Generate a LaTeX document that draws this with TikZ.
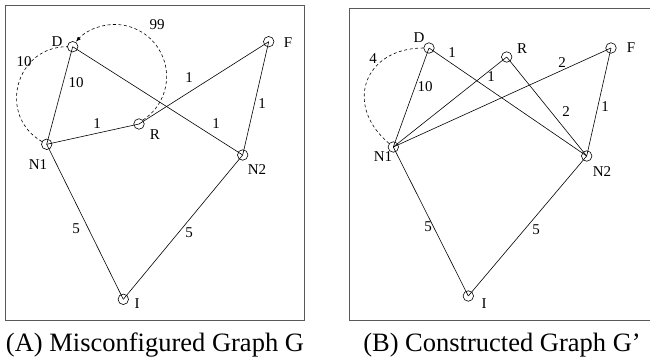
\documentclass[tikz,border=0pt]{standalone}
\usepackage{fontspec}
\setmainfont{Liberation Serif}
\usetikzlibrary{arrows.meta}

\tikzset{
  vtx/.style={draw,circle,inner sep=0pt,minimum size=10.5pt,line width=0.6pt},
  txt/.style={font=\fontsize{15}{15}\selectfont,inner sep=0pt},
  edge/.style={line width=0.6pt},
  alt/.style={line width=0.6pt,dash pattern=on 3pt off 2.5pt},
  frm/.style={line width=1pt,black!65},
  subcap/.style={font=\fontsize{26.5}{28}\selectfont,inner sep=0pt,anchor=base}
}

\begin{document}
\begin{tikzpicture}[x=1pt,y=-1pt]
\useasboundingbox (0,0) rectangle (650,360);
\draw[frm] (5,5) rectangle (304,320);
\draw[frm] (652,8) -- (349,8) -- (349,320) -- (652,320);

% (A) misconfigured graph
\node[vtx] (aD) at (72.7,46.7) {};
\node[vtx] (aF) at (268.7,41.7) {};
\node[vtx] (aR) at (139,124) {};
\node[vtx] (aN1) at (46.7,144.3) {};
\node[vtx] (aN2) at (242.7,155) {};
\node[vtx] (aI) at (123.3,299.3) {};
\node[txt] (aDt) at (57,42) {D};
\node[txt] (aFt) at (288,43) {F};
\node[txt] (aRt) at (155,135) {R};
\node[txt] (aN1t) at (38,165) {N1};
\node[txt] (aN2t) at (257,170) {N2};
\node[txt] (aIt) at (137,304) {I};
\draw[edge] (aD.center) -- (aN1.center);
\draw[edge] (aD.center) -- (aN2.center);
\draw[edge] (aN1.center) -- (aR.center);
\draw[edge] (aR.center) -- (aF.center);
\draw[edge] (aF.center) -- (aN2.center);
\draw[edge] (aN1.center) -- (aI.center);
\draw[edge] (aN2.center) -- (aI.center);
\draw[alt] (aN1) to[out=150,in=180,looseness=1.35] (aD);
\draw[alt,-{Latex[length=5pt,width=4pt]}] (aR.45) arc[start angle=-57,end angle=138,radius=52pt];
\node[txt] (aw1) at (76,83) {10};
\node[txt] (aw2) at (216,124) {1};
\node[txt] (aw3) at (97,124) {1};
\node[txt] (aw4) at (189,78) {1};
\node[txt] (aw5) at (262,104) {1};
\node[txt] (aw6) at (76,229) {5};
\node[txt] (aw7) at (189,233) {5};
\node[txt] (aw8) at (24,62) {10};
\node[txt] (aw9) at (157,25) {99};

% (B) constructed graph
\node[vtx] (bD) at (429,48) {};
\node[vtx] (bR) at (506.7,57) {};
\node[vtx] (bF) at (611,48) {};
\node[vtx] (bN1) at (393.3,147) {};
\node[vtx] (bN2) at (586.7,156) {};
\node[vtx] (bI) at (468.3,296) {};
\node[txt] (bDt) at (419,38) {D};
\node[txt] (bRt) at (522,49) {R};
\node[txt] (bFt) at (631,48) {F};
\node[txt] (bN1t) at (383,157) {N1};
\node[txt] (bN2t) at (602,172) {N2};
\node[txt] (bIt) at (484,304) {I};
\draw[edge] (bD.center) -- (bN1.center);
\draw[edge] (bD.center) -- (bN2.center);
\draw[edge] (bR.center) -- (bN1.center);
\draw[edge] (bR.center) -- (bN2.center);
\draw[edge] (bF.center) -- (bN1.center);
\draw[edge] (bF.center) -- (bN2.center);
\draw[edge] (bN1.center) -- (bI.center);
\draw[edge] (bN2.center) -- (bI.center);
\draw[alt] (bN1) to[out=140,in=180,looseness=1.5] (bD);
\node[txt] (bw1) at (425,87) {10};
\node[txt] (bw2) at (452,53) {1};
\node[txt] (bw3) at (491,77) {1};
\node[txt] (bw4) at (566,112) {2};
\node[txt] (bw5) at (562,63) {2};
\node[txt] (bw6) at (605,107) {1};
\node[txt] (bw7) at (428,227) {5};
\node[txt] (bw8) at (536,230) {5};
\node[txt] (bw9) at (373,59) {4};

\node[subcap] (capA) at (155,351) {(A) Misconfigured Graph G};
\node[subcap] (capB) at (502,351) {(B) Constructed Graph G’};
\end{tikzpicture}
\end{document}
